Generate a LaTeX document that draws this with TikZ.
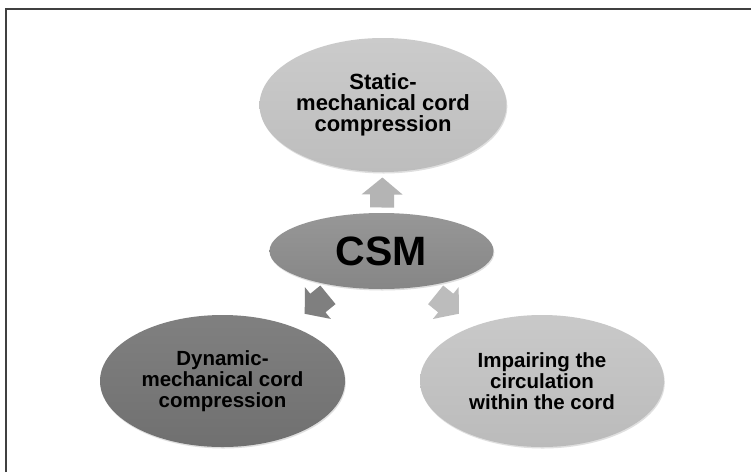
\documentclass[tikz,border=0pt]{standalone}
\usepackage{fontspec}
\setmainfont{Liberation Sans}
\usetikzlibrary{shapes.geometric,calc,shadows}
\definecolor{topA}{HTML}{CBCBCB}
\definecolor{topB}{HTML}{BDBDBD}
\definecolor{csmA}{HTML}{979797}
\definecolor{csmB}{HTML}{868686}
\definecolor{blA}{HTML}{808080}
\definecolor{blB}{HTML}{707070}
\definecolor{brA}{HTML}{C9C9C9}
\definecolor{brB}{HTML}{BBBBBB}
\definecolor{arrUp}{HTML}{B4B4B4}
\definecolor{arrL}{HTML}{7F7F7F}
\definecolor{arrR}{HTML}{BCBCBC}
\begin{document}
\begin{tikzpicture}[x=1pt,y=-1pt,
  bubble/.style={ellipse, inner sep=0pt, align=center, text=black,
    font=\bfseries\fontsize{20.5pt}{21pt}\selectfont,
    drop shadow={opacity=0.25,shadow xshift=0.8pt,shadow yshift=-1.5pt}},
  blockarrow/.pic={\fill[pic actions] (-15,-12) -- (-2,-12) -- (-2,-20.5) -- (15,0)
     -- (-2,20.5) -- (-2,12) -- (-15,12) -- cycle;},
  frameline/.style={draw=black!75, line width=1.5pt}
]
\useasboundingbox (0,0) rectangle (751,472);
\fill[white] (0,0) rectangle (751,472);
\coordinate (fbl) at (6,472);
\coordinate (ftl) at (6,9);
\coordinate (ftr) at (751,9);
\draw[frameline] (fbl) -- (ftl) -- (ftr);

\node[bubble, minimum width=247pt, minimum height=134pt, top color=topA, bottom color=topB,
  font=\bfseries\fontsize{22pt}{21pt}\selectfont] (top) at (383,105)
  {Static-\\mechanical cord\\compression};
\node[bubble, minimum width=224pt, minimum height=76pt, top color=csmA, bottom color=csmB,
  font=\bfseries\fontsize{41pt}{41pt}\selectfont] (csm) at (381.5,251) {CSM};
\node[bubble, minimum width=245pt, minimum height=132pt, top color=blA, bottom color=blB] (bl) at (222.5,381)
  {Dynamic-\\mechanical cord\\compression};
\node[bubble, minimum width=244pt, minimum height=132pt, top color=brA, bottom color=brB] (br) at (542,381)
  {Impairing the\\circulation\\within the cord};

\path let \p1=($(top)-(csm)$), \n1={atan2(\y1,\x1)} in
  ($(top.south)!0.5!(csm.north)$) pic[fill=arrUp, rotate=\n1] {blockarrow};
\path let \p1=($(bl)-(csm)$), \n1={atan2(\y1,\x1)} in
  ($(csm)!0.41!(bl)$) pic[fill=arrL, rotate=\n1] {blockarrow};
\path let \p1=($(br)-(csm)$), \n1={atan2(\y1,\x1)} in
  ($(csm)!0.41!(br)$) pic[fill=arrR, rotate=\n1] {blockarrow};
\end{tikzpicture}
\end{document}
